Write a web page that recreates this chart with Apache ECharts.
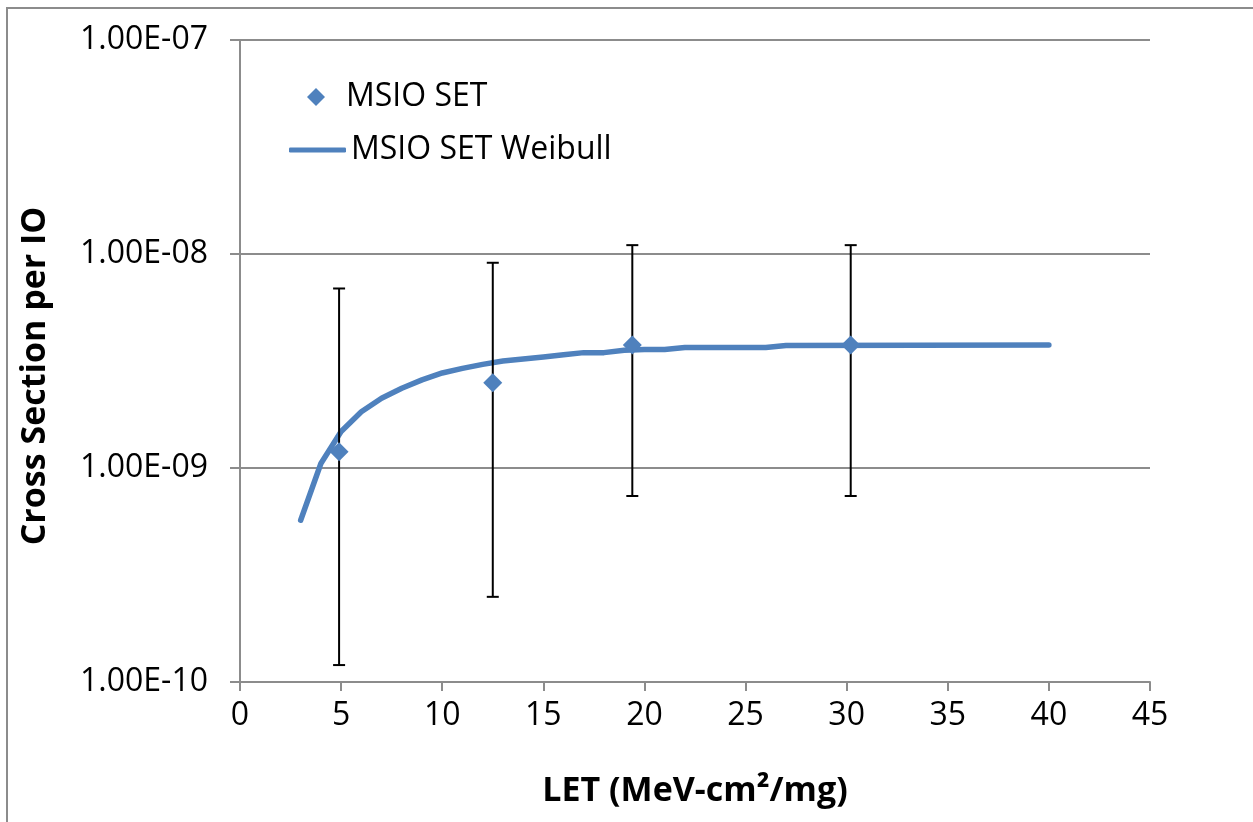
<!DOCTYPE html>
<html>
<head>
<meta charset="utf-8">
<script src="https://cdn.jsdelivr.net/npm/echarts@6/dist/echarts.min.js"></script>
<style>
  html, body { margin: 0; padding: 0; background: #fff; }
  #chart { width: 1253px; height: 822px; }
</style>
</head>
<body>
<div id="chart"></div>
<script>
// measured points (LET, cross section) with error bar limits
var letPoints = [4.9, 12.5, 19.4, 30.2];
var xsPoints = [1.19e-9, 2.5e-9, 3.76e-9, 3.76e-9];
var errLow = [1.2e-10, 2.5e-10, 7.4e-10, 7.4e-10];
var errHigh = [6.9e-9, 9.1e-9, 1.1e-8, 1.1e-8];

// weibull fit
var fitLet = [3, 4, 5, 6, 7, 8, 9, 10, 11, 12, 13, 14, 15, 16, 17, 18, 19, 20, 21, 22, 26, 27, 40];
var fitXs = [5.7e-10, 1.05e-9, 1.48e-9, 1.83e-9, 2.12e-9, 2.36e-9, 2.58e-9, 2.78e-9, 2.92e-9, 3.05e-9,
  3.16e-9, 3.23e-9, 3.3e-9, 3.38e-9, 3.46e-9, 3.46e-9, 3.55e-9, 3.58e-9, 3.58e-9, 3.66e-9, 3.66e-9,
  3.74e-9, 3.76e-9];

var xTicks = [0, 5, 10, 15, 20, 25, 30, 35, 40, 45];

var FONT = '"Open Sans", "Noto Sans", sans-serif';
var BLUE = '#4f81bd';
var GRID = '#8c8c8c';

var chart = echarts.init(document.getElementById('chart'));

function fmtExp(v) {
  var e = Math.round(Math.log10(v));
  var s = e < 0 ? '-' : '+';
  var a = Math.abs(e);
  return '1.00E' + s + (a < 10 ? '0' + a : a);
}

chart.setOption({
  animation: false,
  backgroundColor: '#fff',
  textStyle: { fontFamily: FONT },
  graphic: [{
    type: 'rect',
    shape: { x: 7, y: 8, width: 2000, height: 2000 },
    style: { fill: 'none', stroke: GRID, lineWidth: 2 },
    silent: true
  }],
  legend: [{
    data: ['MSIO SET'],
    orient: 'vertical',
    left: 302,
    top: 76,
    itemWidth: 18,
    itemHeight: 18,
    textStyle: { fontSize: 32, color: '#000', fontFamily: FONT, padding: [0, 0, 0, 16] }
  }, {
    data: [{ name: 'MSIO SET Weibull', icon: 'roundRect' }],
    orient: 'vertical',
    left: 284,
    top: 129,
    itemWidth: 57,
    itemHeight: 5,
    itemStyle: { color: BLUE },
    textStyle: { fontSize: 32, color: '#000', fontFamily: FONT }
  }],
  grid: { left: 240, right: 103, top: 40, bottom: 140 },
  xAxis: {
    type: 'value',
    min: 0,
    max: 45,
    interval: 5,
    name: 'LET (MeV-cm²/mg)',
    nameLocation: 'middle',
    nameGap: 92,
    nameTextStyle: { fontSize: 34, fontWeight: 'bold', color: '#000', fontFamily: FONT },
    axisLine: { lineStyle: { color: GRID, width: 2 } },
    axisTick: { show: true, length: 9, lineStyle: { color: GRID, width: 2 } },
    axisLabel: {
      fontSize: 32, color: '#000', margin: 18, fontFamily: FONT,
      formatter: function (v) { return xTicks.indexOf(v) >= 0 ? String(v) : ''; }
    },
    splitLine: { show: false }
  },
  yAxis: {
    type: 'log',
    logBase: 10,
    min: 1e-10,
    max: 1e-7,
    name: 'Cross Section per IO',
    nameLocation: 'middle',
    nameRotate: 90,
    nameGap: 188,
    nameTextStyle: { fontSize: 34, fontWeight: 'bold', color: '#000', fontFamily: FONT, padding: [0, 30, 0, 0] },
    axisLine: { show: true, lineStyle: { color: GRID, width: 2 } },
    axisTick: { show: true, length: 10, lineStyle: { color: GRID, width: 2 } },
    axisLabel: { fontSize: 32, color: '#000', margin: 32, fontFamily: FONT, formatter: fmtExp },
    splitLine: { show: true, lineStyle: { color: GRID, width: 2 } },
    minorTick: { show: false }
  },
  series: [{
    name: 'MSIO SET Weibull',
    type: 'line',
    data: fitLet.map(function (x, i) { return [x, fitXs[i]]; }),
    showSymbol: false,
    symbol: 'none',
    lineStyle: { color: BLUE, width: 5.5, cap: 'round', join: 'round' },
    itemStyle: { color: BLUE },
    z: 2
  }, {
    name: 'errors',
    type: 'custom',
    data: letPoints.map(function (x, i) { return [x, errLow[i], errHigh[i]]; }),
    renderItem: function (params, api) {
      var lo = api.coord([api.value(0), api.value(1)]);
      var hi = api.coord([api.value(0), api.value(2)]);
      var w = 6;
      var st = { stroke: '#000', lineWidth: 2 };
      return {
        type: 'group',
        children: [
          { type: 'line', shape: { x1: lo[0], y1: lo[1], x2: hi[0], y2: hi[1] }, style: st },
          { type: 'line', shape: { x1: lo[0] - w, y1: lo[1], x2: lo[0] + w, y2: lo[1] }, style: st },
          { type: 'line', shape: { x1: hi[0] - w, y1: hi[1], x2: hi[0] + w, y2: hi[1] }, style: st }
        ]
      };
    },
    z: 3
  }, {
    name: 'MSIO SET',
    type: 'scatter',
    data: letPoints.map(function (x, i) { return [x, xsPoints[i]]; }),
    symbol: 'diamond',
    symbolSize: 19,
    itemStyle: { color: BLUE, opacity: 1 },
    z: 4
  }]
});

window.addEventListener('resize', function () { chart.resize(); });
</script>
</body>
</html>
